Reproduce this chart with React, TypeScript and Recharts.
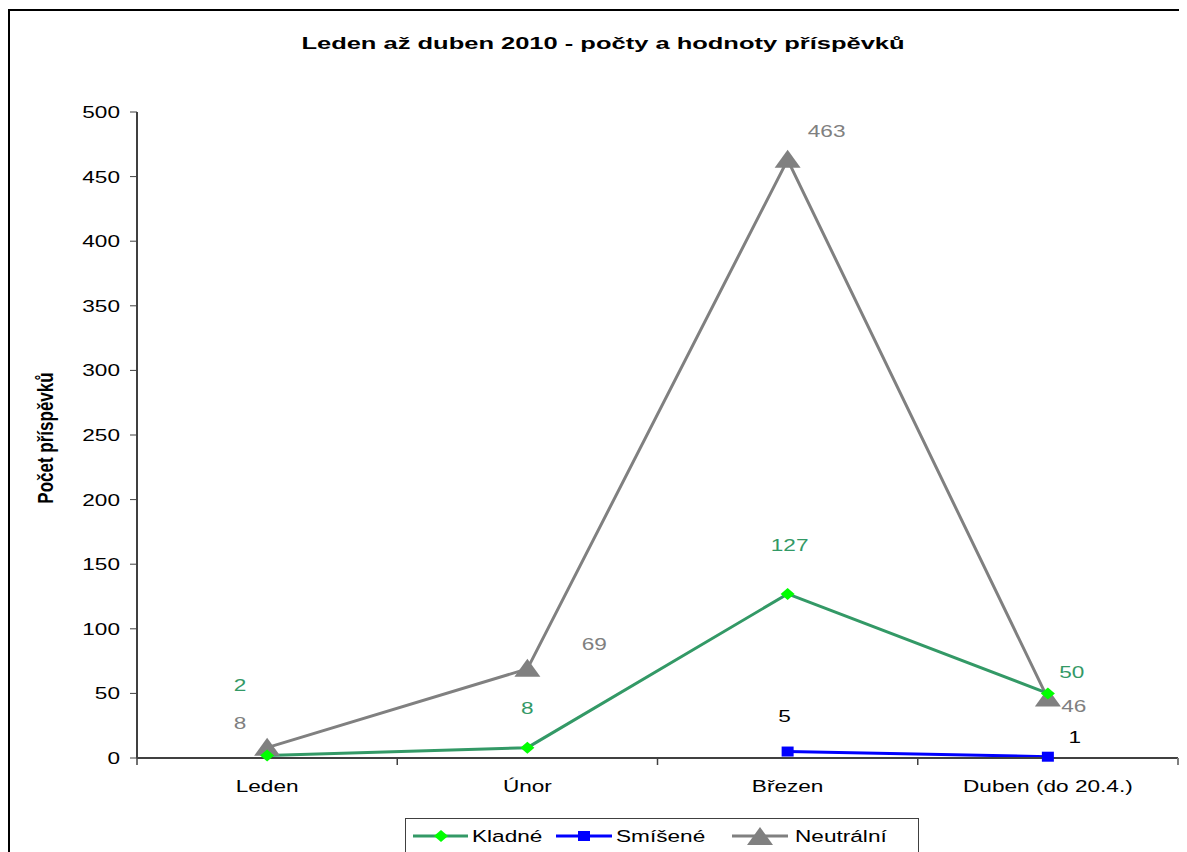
import {
  LineChart,
  Line,
  XAxis,
  YAxis,
  Legend,
  LabelList,
} from "recharts";

const months = ["Leden", "Únor", "Březen", "Duben (do 20.4.)"];
const kladne = [2, 8, 127, 50];
const smisene = [null, null, 5, 1];
const neutralni = [8, 69, 463, 46];
const yTicks = [0, 50, 100, 150, 200, 250, 300, 350, 400, 450, 500];

const data = months.map((month, i) => ({
  month,
  kladne: kladne[i],
  smisene: smisene[i],
  neutralni: neutralni[i],
}));

const FONT = "'Liberation Sans', Arial, sans-serif";
const SX = 1.33;
const GREEN = "#339966";
const GRAY = "#808080";
const BLUE = "#0000ff";

// label offsets from the point, per index
const kladneOff = [[-27, -70], [0, -40], [2, -49], [24, -21]];
const smiseneOff = [[0, 0], [0, 0], [-3, -35], [27, -20]];
const neutralniOff = [[-27, -25], [67, -25], [39, -29], [26, 7]];

const StretchText = ({ x, y, anchor = "middle", fill = "#000", size = 17, weight = "normal", children }: any) => (
  <text
    transform={`translate(${x},${y}) scale(${SX},1)`}
    textAnchor={anchor}
    fill={fill}
    fontSize={size}
    fontWeight={weight}
    fontFamily={FONT}
    dominantBaseline="central"
  >
    {children}
  </text>
);

const YTick = ({ x, y, payload }: any) => (
  <StretchText x={x} y={y} anchor="end">
    {payload.value}
  </StretchText>
);

const BAND = 1041 / months.length;

const XTick = ({ x, y, payload, index }: any) => (
  <g>
    <line x1={x - BAND / 2} x2={x - BAND / 2} y1={y - 8} y2={y - 1} stroke="#404040" strokeWidth={1.5} />
    {index === months.length - 1 && (
      <line x1={x + BAND / 2} x2={x + BAND / 2} y1={y - 8} y2={y - 1} stroke={GRAY} strokeWidth={2} />
    )}
    <StretchText x={x} y={y + 20}>
      {payload.value}
    </StretchText>
  </g>
);

const makeLabel = (offs: number[][], color: string) => (props: any) => {
  const { x, y, value, index } = props;
  if (value == null || x == null || y == null) return null;
  const o = offs[index] || [0, -20];
  return (
    <StretchText x={x + o[0]} y={y + o[1]} fill={color}>
      {value}
    </StretchText>
  );
};

const Diamond = ({ cx, cy }: any) =>
  cx == null || cy == null ? null : (
    <polygon points={`${cx},${cy - 6} ${cx + 7},${cy} ${cx},${cy + 6} ${cx - 7},${cy}`} fill="#00ff00" />
  );

const Square = ({ cx, cy }: any) =>
  cx == null || cy == null ? null : <rect x={cx - 6} y={cy - 5} width={12} height={10} fill={BLUE} />;

const Triangle = ({ cx, cy }: any) =>
  cx == null || cy == null ? null : (
    <polygon points={`${cx},${cy - 10} ${cx + 13},${cy + 8} ${cx - 13},${cy + 8}`} fill={GRAY} />
  );

const LegendBox = () => (
  <svg width={515} height={40} style={{ display: "block" }}>
    <rect x={0.5} y={0.5} width={513} height={45} fill="#fff" stroke="#404040" strokeWidth={1} />
    <line x1={8} x2={63} y1={18} y2={18} stroke={GREEN} strokeWidth={3} />
    <Diamond cx={36} cy={18} />
    <StretchText x={67} y={18} anchor="start">Kladné</StretchText>
    <line x1={151} x2={207} y1={18} y2={18} stroke={BLUE} strokeWidth={3} />
    <Square cx={179} cy={18} />
    <StretchText x={211} y={18} anchor="start">Smíšené</StretchText>
    <line x1={327} x2={383} y1={18} y2={18} stroke={GRAY} strokeWidth={3} />
    <Triangle cx={355} cy={19} />
    <StretchText x={390} y={18} anchor="start">Neutrální</StretchText>
  </svg>
);

const YLabel = () => (
  <text
    transform={`translate(37,430) rotate(-90) scale(1,${SX})`}
    textAnchor="middle"
    dominantBaseline="central"
    fontSize={17}
    fontWeight="bold"
    fontFamily={FONT}
    fill="#000"
  >
    Počet příspěvků
  </text>
);

export default function App() {
  return (
    <div style={{ position: "relative", width: 1179, height: 844, overflow: "hidden", background: "#fff" }}>
      <div
        style={{
          position: "absolute",
          left: 0,
          top: 1,
          width: 1300,
          height: 1000,
          border: "2px solid #000",
        }}
      />
      <svg width={1179} height={80} style={{ position: "absolute", left: 0, top: 0 }}>
        <text
          transform={`translate(595,35) scale(1.5,1)`}
          textAnchor="middle"
          dominantBaseline="central"
          fontSize={17}
          fontWeight="bold"
          fontFamily={FONT}
          fill="#000"
        >
          Leden až duben 2010 - počty a hodnoty příspěvků
        </text>
      </svg>
      <LineChart
        width={1179}
        height={844}
        data={data}
        margin={{ top: 104, right: 9, left: 0, bottom: 64 }}
        style={{ position: "absolute", left: 0, top: 0 }}
      >
        <XAxis
          xAxisId="top"
          orientation="top"
          dataKey="month"
          height={0}
          padding={{ left: BAND / 2, right: BAND / 2 }}
          tick={false}
          tickLine={false}
          axisLine={{ stroke: GRAY, strokeWidth: 3 }}
        />
        <YAxis yAxisId="right" orientation="right" width={0} domain={[0, 500]} tick={false} tickLine={false} axisLine={{ stroke: GRAY, strokeWidth: 3 }} />
        <XAxis
          dataKey="month"
          height={30}
          padding={{ left: BAND / 2, right: BAND / 2 }}
          tickLine={false}
          tick={<XTick />}
          axisLine={{ stroke: "#404040", strokeWidth: 2 }}
          interval={0}
        />
        <YAxis
          width={129}
          domain={[0, 500]}
          ticks={yTicks}
          interval={0}
          tickSize={7}
          tickMargin={10}
          tick={<YTick />}
          tickLine={{ stroke: "#404040" }}
          axisLine={{ stroke: "#404040", strokeWidth: 2 }}
          label={<YLabel />}
        />
        <Legend
          layout="horizontal"
          verticalAlign="middle"
          content={<LegendBox />}
          wrapperStyle={{ left: 397, top: 810, width: 515, height: 40 }}
        />
        <Line dataKey="neutralni" name="Neutrální" stroke={GRAY} strokeWidth={3} dot={<Triangle />} isAnimationActive={false}>
          <LabelList dataKey="neutralni" content={makeLabel(neutralniOff, GRAY)} />
        </Line>
        <Line dataKey="kladne" name="Kladné" stroke={GREEN} strokeWidth={3} dot={<Diamond />} isAnimationActive={false}>
          <LabelList dataKey="kladne" content={makeLabel(kladneOff, GREEN)} />
        </Line>
        <Line dataKey="smisene" name="Smíšené" stroke={BLUE} strokeWidth={3} dot={<Square />} isAnimationActive={false}>
          <LabelList dataKey="smisene" content={makeLabel(smiseneOff, "#000")} />
        </Line>
      </LineChart>
    </div>
  );
}
